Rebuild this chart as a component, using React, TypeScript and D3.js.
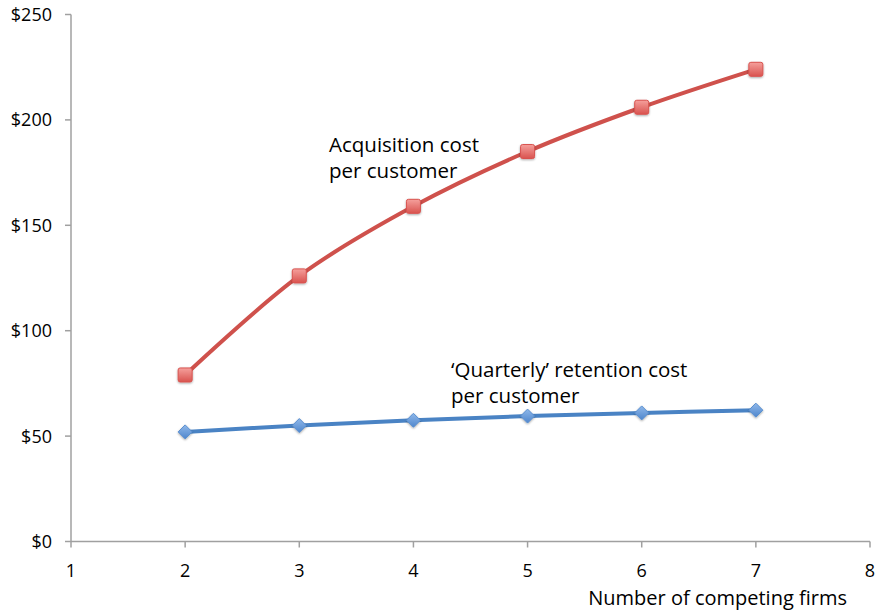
import React from "react";
import * as d3 from "d3";

const firms = [2, 3, 4, 5, 6, 7];
const acquisition = [79, 126, 159, 185, 206, 224];
const retention = [52, 55, 57.5, 59.5, 61, 62.3];
const xTicks = [1, 2, 3, 4, 5, 6, 7, 8];
const yTicks = [0, 50, 100, 150, 200, 250];

const W = 878;
const H = 612;
const FONT = "Open Sans, Calibri, sans-serif";

export default function App() {
  const x = d3.scaleLinear().domain([1, 8]).range([71, 870]);
  const y = d3.scaleLinear().domain([0, 250]).range([541.5, 14.5]);
  const line = d3
    .line<[number, number]>()
    .x((d) => x(d[0]))
    .y((d) => y(d[1]))
    .curve(d3.curveCatmullRom.alpha(0.5));
  const acqPts: [number, number][] = firms.map((f, i) => [f, acquisition[i]]);
  const retPts: [number, number][] = firms.map((f, i) => [f, retention[i]]);
  const axisColor = "#a0a0a0";
  return (
    <svg width={W} height={H} style={{ position: "absolute", left: 0, top: 0 }}>
      <defs>
        <linearGradient id="redG" x1="0" y1="0" x2="0" y2="1">
          <stop offset="0" stopColor="#f5a09c" />
          <stop offset="1" stopColor="#d9534f" />
        </linearGradient>
        <linearGradient id="blueG" x1="0" y1="0" x2="0" y2="1">
          <stop offset="0" stopColor="#8fb8ea" />
          <stop offset="1" stopColor="#4f86cc" />
        </linearGradient>
        <filter id="sh" x="-50%" y="-50%" width="200%" height="200%">
          <feDropShadow dx="0" dy="1" stdDeviation="1" floodColor="#000" floodOpacity="0.35" />
        </filter>
      </defs>
      {/* axes */}
      <line x1={x(1)} x2={x(1)} y1={y(0)} y2={y(250)} stroke={axisColor} strokeWidth={1.5} />
      <line x1={x(1)} x2={x(8)} y1={y(0)} y2={y(0)} stroke={axisColor} strokeWidth={1.5} />
      {yTicks.map((t) => (
        <g key={"y" + t}>
          <line x1={x(1) - 6} x2={x(1)} y1={y(t)} y2={y(t)} stroke={axisColor} strokeWidth={1.5} />
          <text x={52} y={y(t) + 6.5} textAnchor="end" fontFamily={FONT} fontSize={18} fill="#000">
            {"$" + t}
          </text>
        </g>
      ))}
      {xTicks.map((t) => (
        <g key={"x" + t}>
          <line x1={x(t)} x2={x(t)} y1={y(0)} y2={y(0) + 6} stroke={axisColor} strokeWidth={1.5} />
          <text x={x(t)} y={577} textAnchor="middle" fontFamily={FONT} fontSize={18} fill="#000">
            {t}
          </text>
        </g>
      ))}
      <text x={847} y={605} textAnchor="end" fontFamily={FONT} fontSize={20} fill="#000">
        Number of competing firms
      </text>
      {/* lines */}
      <path d={line(acqPts) || ""} fill="none" stroke="#cf514c" strokeWidth={4} />
      <path d={line(retPts) || ""} fill="none" stroke="#4a83c4" strokeWidth={4} />
      {acqPts.map((p, i) => (
        <rect
          key={"a" + i}
          x={x(p[0]) - 7}
          y={y(p[1]) - 7}
          width={14}
          height={14}
          rx={2}
          fill="url(#redG)"
          stroke="#d9534f"
          strokeWidth={1}
          filter="url(#sh)"
        />
      ))}
      {retPts.map((p, i) => {
        const cx = x(p[0]);
        const cy = y(p[1]);
        const r = 7;
        return (
          <path
            key={"r" + i}
            d={`M${cx},${cy - r}L${cx + r},${cy}L${cx},${cy + r}L${cx - r},${cy}Z`}
            fill="url(#blueG)"
            stroke="#5a8fd0"
            strokeWidth={1}
            strokeLinejoin="round"
            filter="url(#sh)"
          />
        );
      })}
      {/* annotations */}
      <text fontFamily={FONT} fontSize={20.5} fill="#000">
        <tspan x={329} y={152}>Acquisition cost</tspan>
        <tspan x={329} y={178}>per customer</tspan>
      </text>
      <text fontFamily={FONT} fontSize={20.5} fill="#000">
        <tspan x={451} y={377}>‘Quarterly’ retention cost</tspan>
        <tspan x={451} y={403}>per customer</tspan>
      </text>
    </svg>
  );
}
